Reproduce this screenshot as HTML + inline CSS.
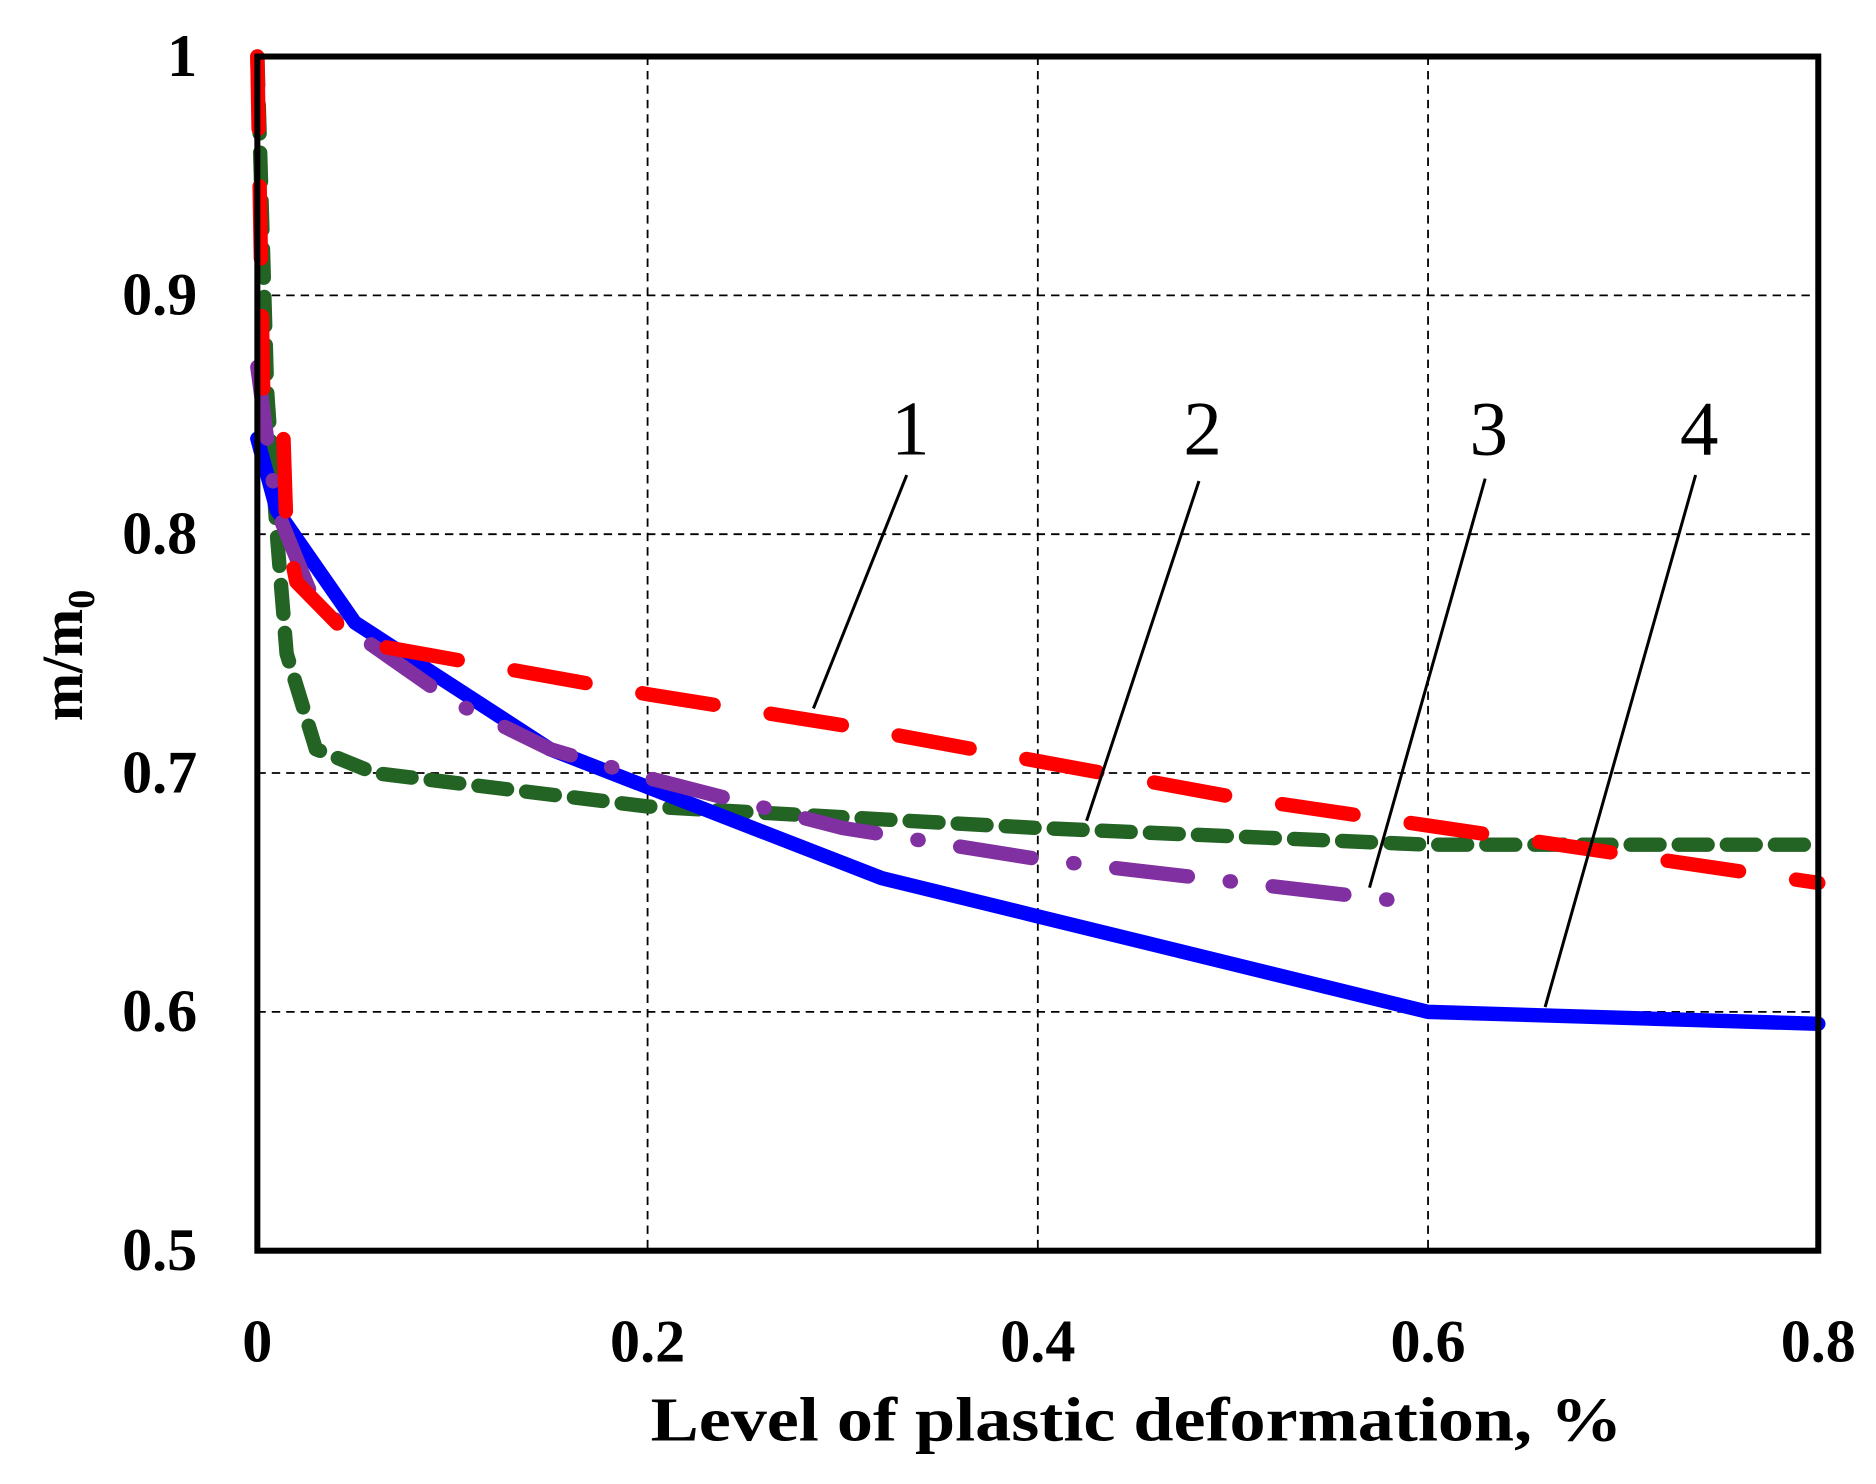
<!DOCTYPE html>
<html><head><meta charset="utf-8"><style>
html,body{margin:0;padding:0;background:#fff;}
svg{display:block;}
text{font-family:"Liberation Serif",serif;}
</style></head><body>
<svg id="chart" width="1876" height="1484" viewBox="0 0 1560 1234" preserveAspectRatio="none" xmlns="http://www.w3.org/2000/svg">
<g id="grid"></g>
<g id="series"></g>
<rect x="214" y="47" width="1298" height="993" fill="none" stroke="#000" stroke-width="5"/>
<g id="ticks"></g>
<g id="labels"></g>
<text x="945" y="1198" text-anchor="middle" font-size="52" font-weight="bold" textLength="808" lengthAdjust="spacingAndGlyphs">Level of plastic deformation, %</text>
<text transform="translate(68,545) rotate(-90)" text-anchor="middle" font-size="48" font-weight="bold">m/m<tspan font-size="32" dy="10">0</tspan></text>
</svg>
<script>
const xTicks=[0,0.2,0.4,0.6,0.8];
const yTicks=[0.5,0.6,0.7,0.8,0.9,1];
const xTickLabels=["0","0.2","0.4","0.6","0.8"];
const yTickLabels=["0.5","0.6","0.7","0.8","0.9","1"];
const s1x=[0,0.003,0.013,0.015,0.02,0.05,0.2,0.3,0.5,0.6,0.8];
const s1y=[1,0.86,0.85,0.8,0.78,0.755,0.733,0.72,0.69,0.678,0.654];
const s2x=[0,0.005,0.01,0.015,0.03,0.06,0.2,0.4,0.6,0.8];
const s2y=[1,0.86,0.8,0.75,0.71,0.70,0.686,0.677,0.67,0.67];
const s3x=[0,0.01,0.03,0.1,0.15,0.2,0.3,0.4,0.6];
const s3y=[0.87,0.81,0.77,0.73,0.71,0.698,0.677,0.664,0.645];
const s4x=[0,0.01,0.05,0.15,0.32,0.4,0.6,0.8];
const s4y=[0.84,0.81,0.763,0.71,0.656,0.64,0.6,0.595];
const curveLabels=["1","2","3","4"];
const labelX=[0.285,0.425,0.57,0.66];
const labelY=[0.724,0.677,0.649,0.599];

const X0=214,X1=1512,Y0=1040,Y1=47;
const sx=v=>X0+(v-0)/(0.8-0)*(X1-X0);
const sy=v=>Y0-(v-0.5)/(1-0.5)*(Y0-Y1);
const NS="http://www.w3.org/2000/svg";
function mk(tag,parent,attrs){const e=document.createElementNS(NS,tag);for(const k in attrs)e.setAttribute(k,attrs[k]);parent.appendChild(e);return e;}
const grid=document.getElementById('grid'),ticks=document.getElementById('ticks'),series=document.getElementById('series'),labels=document.getElementById('labels');
xTicks.forEach((v,i)=>{
 if(i>0&&i<xTicks.length-1){const l=mk('line',grid,{x1:sx(v),x2:sx(v),y1:Y1,y2:Y0,stroke:'#000','stroke-width':1.5,'stroke-dasharray':'7,5'});
 
 }
 const t=mk('text',ticks,{x:sx(v),y:1132,'text-anchor':'middle','font-size':50,'font-weight':'bold'});t.textContent=xTickLabels[i];
 
 
});
yTicks.forEach((v,i)=>{
 if(i>0&&i<yTicks.length-1){const l=mk('line',grid,{x1:X0,x2:X1,y1:sy(v),y2:sy(v),stroke:'#000','stroke-width':1.5,'stroke-dasharray':'7,5'});
 
 }
 const t=mk('text',ticks,{x:164,y:sy(v)+16,'text-anchor':'end','font-size':50,'font-weight':'bold'});t.textContent=yTickLabels[i];
 
 
});
function path(xs,ys){return xs.map((x,i)=>(i?'L':'M')+sx(x)+','+sy(ys[i])).join(' ');}
const specs=[[s2x,s2y,'#236323','24,16','series-2-line'],[s4x,s4y,'#0000ff','none','series-4-line'],[s3x,s3y,'#8030a0','60,35,1,35','series-3-line'],[s1x,s1y,'#ff0000','60,48','series-1-line']];
specs.forEach(s=>{
 const p=mk('path',series,{d:path(s[0],s[1]),fill:'none',stroke:s[2],'stroke-width':12,'stroke-linecap':'round','stroke-linejoin':'round','stroke-dasharray':s[3]});
 
 
});
const textX=[757,1000,1238,1413],lineTop=[395,400,398,395];
curveLabels.forEach((c,i)=>{
 const t=mk('text',labels,{x:textX[i],y:378,'text-anchor':'middle','font-size':64});t.textContent=c;
 
 
 const l=mk('line',labels,{x1:textX[i]-3,y1:lineTop[i],x2:sx(labelX[i]),y2:sy(labelY[i])-6,stroke:'#000','stroke-width':2.5});
 
 
});
</script>
</body></html>
